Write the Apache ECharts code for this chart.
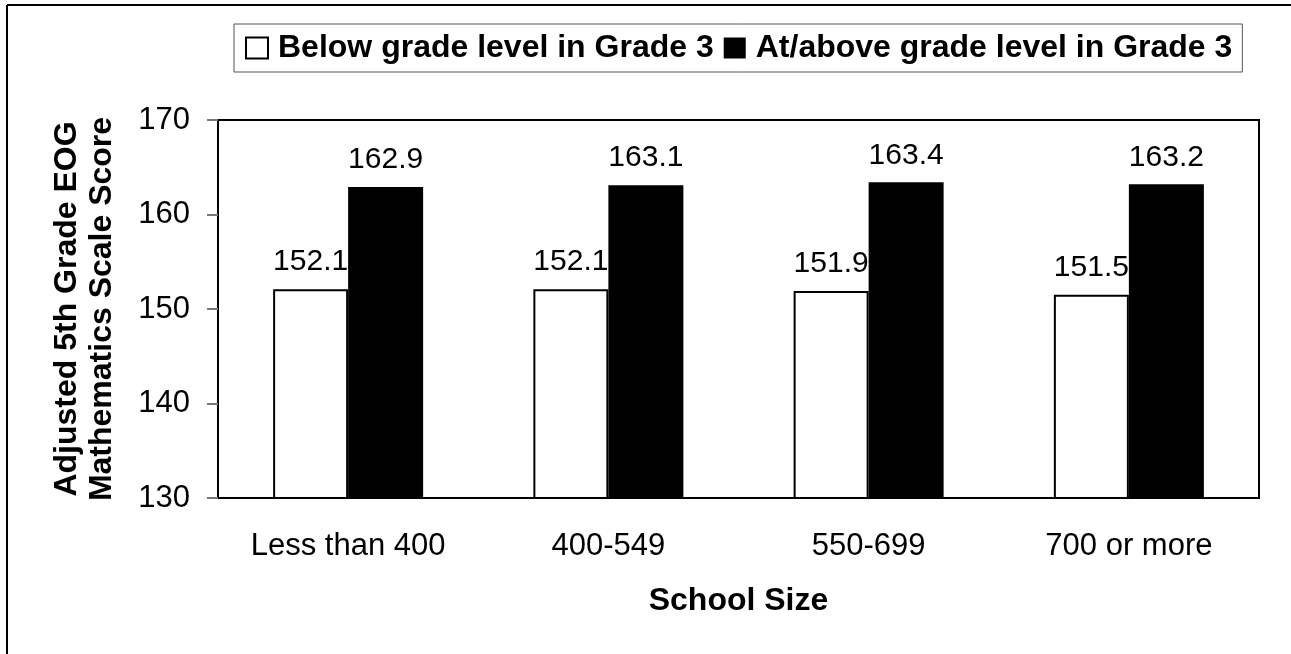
<!DOCTYPE html>
<html>
<head>
<meta charset="utf-8">
<style>
  html, body { margin: 0; padding: 0; background: #fff; }
  #chart { width: 1291px; height: 654px; }
</style>
<script src="https://cdn.jsdelivr.net/npm/echarts@6/dist/echarts.min.js"></script>
</head>
<body>
<div id="chart"></div>
<script>
// data
var categories = ['Less than 400', '400-549', '550-699', '700 or more'];
var belowGrade = [152.1, 152.1, 151.9, 151.5];
var atAboveGrade = [162.9, 163.1, 163.4, 163.2];
var seriesNames = ['Below grade level in Grade 3', 'At/above grade level in Grade 3'];

var font = '"Liberation Sans", Arial, sans-serif';

var myChart = echarts.init(document.getElementById('chart'));

myChart.setOption({
    backgroundColor: '#fff',
    animation: false,
    textStyle: { fontFamily: font, color: '#000' },
    // outer frame (top and left edges only, picture is cropped)
    graphic: [
        { type: 'line', shape: { x1: 7, y1: 5, x2: 1291, y2: 5 }, style: { stroke: '#000', lineWidth: 2 } },
        { type: 'line', shape: { x1: 7, y1: 5, x2: 7, y2: 654 }, style: { stroke: '#000', lineWidth: 2 } }
    ],
    legend: {
        data: seriesNames,
        left: 234,
        top: 24,
        orient: 'horizontal',
        padding: [8, 10, 8, 11],
        itemGap: 10,
        itemWidth: 22,
        itemHeight: 21,
        icon: 'rect',
        borderColor: '#555',
        borderWidth: 1,
        backgroundColor: '#fff',
        textStyle: {
            fontFamily: font,
            fontSize: 32,
            fontWeight: 'bold',
            color: '#000',
            padding: [0, 0, 0, 5]
        }
    },
    grid: {
        left: 218,
        right: 32,
        top: 120,
        bottom: 156,
        show: true,
        borderColor: '#000',
        borderWidth: 2,
        containLabel: false
    },
    xAxis: {
        type: 'category',
        data: categories,
        name: 'School Size',
        nameLocation: 'middle',
        nameGap: 87,
        nameTextStyle: { fontFamily: font, fontSize: 32, fontWeight: 'bold', color: '#000' },
        axisLine: { lineStyle: { color: '#000', width: 2 } },
        axisTick: { inside: true, length: 10, lineStyle: { color: '#777', width: 2 } },
        axisLabel: { fontFamily: font, fontSize: 31, color: '#000', margin: 33 }
    },
    yAxis: {
        type: 'value',
        min: 130,
        max: 170,
        interval: 10,
        name: 'Adjusted 5th Grade EOG\nMathematics Scale Score',
        nameLocation: 'middle',
        nameRotate: 90,
        nameGap: 98,
        nameTextStyle: { fontFamily: font, fontSize: 32, fontWeight: 'bold', color: '#000', lineHeight: 35 },
        axisLine: { show: true, lineStyle: { color: '#000', width: 2 } },
        axisTick: { show: true, length: 11, lineStyle: { color: '#777', width: 2 } },
        axisLabel: { fontFamily: font, fontSize: 31, color: '#000', margin: 28 },
        splitLine: { show: false }
    },
    series: [
        {
            name: seriesNames[0],
            type: 'bar',
            data: belowGrade,
            barWidth: 75,
            barGap: '0%',
            itemStyle: { color: '#fff', borderColor: '#000', borderWidth: 2 },
            label: {
                show: true,
                position: 'top',
                distance: 12,
                fontFamily: font,
                fontSize: 30,
                color: '#000',
                formatter: function (p) { return p.value.toFixed(1); }
            }
        },
        {
            name: seriesNames[1],
            type: 'bar',
            data: atAboveGrade,
            barWidth: 75,
            barGap: '0%',
            itemStyle: { color: '#000', borderColor: '#000', borderWidth: 0 },
            label: {
                show: true,
                position: 'top',
                distance: 12,
                fontFamily: font,
                fontSize: 30,
                color: '#000',
                formatter: function (p) { return p.value.toFixed(1); }
            }
        }
    ]
});
</script>
</body>
</html>
